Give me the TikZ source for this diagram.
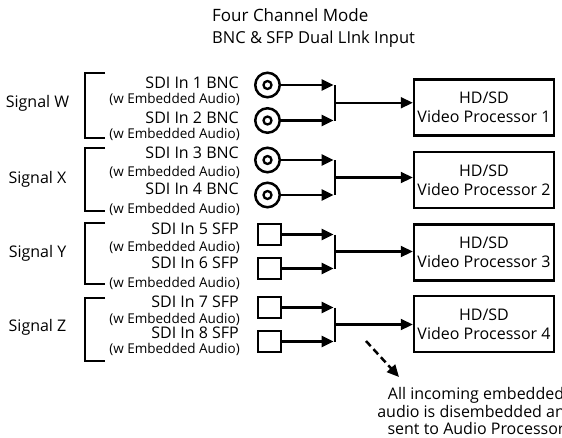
\documentclass[tikz,border=0pt]{standalone}
\usepackage{fontspec}
\setmainfont{Open Sans}
\usetikzlibrary{arrows.meta}
\tikzset{
  bnc/.style={circle,draw,line width=2.5pt,minimum size=24.5pt,inner sep=0pt},
  sfp/.style={rectangle,draw,line width=2.3pt,minimum width=22.5pt,minimum height=20.5pt,inner sep=0pt},
  proc/.style={rectangle,draw,line width=2.5pt,minimum width=140pt,minimum height=56pt,align=center,inner sep=0pt,font=\fontsize{16}{19}\selectfont},
  sdi/.style={anchor=base east,inner sep=0pt,font=\fontsize{16}{18}\selectfont},
  emb/.style={anchor=base east,inner sep=0pt,font=\fontsize{13.5}{15}\selectfont},
  sig/.style={anchor=base,inner sep=0pt,font=\fontsize{16}{18}\selectfont},
  tip/.style={-{Triangle[length=12pt,width=11pt]}},
  feedarrow/.style={line width=2.8pt,tip},
  joinbar/.style={line width=2.8pt},
  outarrow/.style={line width=2.2pt,tip},
  brk/.style={line width=2.5pt},
}
\begin{document}
\begin{tikzpicture}[x=1pt,y=-1pt]
\useasboundingbox (0,0) rectangle (562,437);
\clip (0,0) rectangle (562,437);
% title
\node[anchor=base west,inner sep=0pt,font=\fontsize{17}{20}\selectfont] (t1) at (212,21.5) {Four Channel Mode};
\node[anchor=base west,inner sep=0pt,font=\fontsize{16.5}{20}\selectfont] (t2) at (212,43) {BNC \& SFP Dual LInk Input};

% processors
\node[proc] (p1) at (484,107.5) {HD/SD\\Video Processor 1};
\node[proc] (p2) at (484,180) {HD/SD\\Video Processor 2};
\node[proc] (p3) at (484,252.5) {HD/SD\\Video Processor 3};
\node[proc] (p4) at (484,324) {HD/SD\\Video Processor 4};

% BNC connectors
\node[bnc] (c1) at (267.5,85) {};
\node[bnc] (c2) at (267.5,120.5) {};
\node[bnc] (c3) at (267.5,160) {};
\node[bnc] (c4) at (267.5,195) {};
\draw[line width=2.3pt] (c1.center) circle (4pt);
\draw[line width=2.3pt] (c2.center) circle (4pt);
\draw[line width=2.3pt] (c3.center) circle (4pt);
\draw[line width=2.3pt] (c4.center) circle (4pt);
% SFP connectors
\node[sfp] (c5) at (269.5,234.5) {};
\node[sfp] (c6) at (269.5,268.5) {};
\node[sfp] (c7) at (269.5,307.5) {};
\node[sfp] (c8) at (269.5,341.5) {};

% junction points
\coordinate (ja1) at (335,85);    \coordinate (jb1) at (335,120.5); \coordinate (jm1) at (335,102.75);
\coordinate (ja2) at (335,160);   \coordinate (jb2) at (335,195);   \coordinate (jm2) at (335,177.5);
\coordinate (ja3) at (335,234.5); \coordinate (jb3) at (335,268.5); \coordinate (jm3) at (335,251.5);
\coordinate (ja4) at (335,307.5); \coordinate (jb4) at (335,341.5); \coordinate (jm4) at (335,324.5);
\coordinate (ta1) at (333.6,85);    \coordinate (tb1) at (333.6,120.5);
\coordinate (ta2) at (333.6,160);   \coordinate (tb2) at (333.6,195);
\coordinate (ta3) at (333.6,234.5); \coordinate (tb3) at (333.6,268.5);
\coordinate (ta4) at (333.6,307.5); \coordinate (tb4) at (333.6,341.5);

\draw[feedarrow] (c1.east) -- (ta1);
\draw[feedarrow] (c2.east) -- (tb1);
\draw[feedarrow] (c3.east) -- (ta2);
\draw[feedarrow] (c4.east) -- (tb2);
\draw[feedarrow] (c5.east) -- (ta3);
\draw[feedarrow] (c6.east) -- (tb3);
\draw[feedarrow] (c7.east) -- (ta4);
\draw[feedarrow] (c8.east) -- (tb4);
\draw[joinbar] (ja1) -- (jb1);
\draw[joinbar] (ja2) -- (jb2);
\draw[joinbar] (ja3) -- (jb3);
\draw[joinbar] (ja4) -- (jb4);
\draw[outarrow] (jm1) -- (jm1 -| p1.west);
\draw[outarrow] (jm2) -- (jm2 -| p2.west);
\draw[outarrow] (jm3) -- (jm3 -| p3.west);
\draw[outarrow] (jm4) -- (jm4 -| p4.west);

% input labels
\node[sdi] (l1) at (239,88) {SDI In 1 BNC};
\node[emb] (e1) at (240,103) {(w Embedded Audio)};
\node[sdi] (l2) at (239,123) {SDI In 2 BNC};
\node[emb] (e2) at (240,138) {(w Embedded Audio)};
\node[sdi] (l3) at (239,158) {SDI In 3 BNC};
\node[emb] (e3) at (240,176) {(w Embedded Audio)};
\node[sdi] (l4) at (239,194) {SDI In 4 BNC};
\node[emb] (e4) at (240,213) {(w Embedded Audio)};
\node[sdi] (l5) at (239,234) {SDI In 5 SFP};
\node[emb] (e5) at (240,251) {(w Embedded Audio)};
\node[sdi] (l6) at (239,268) {SDI In 6 SFP};
\node[emb] (e6) at (240,287) {(w Embedded Audio)};
\node[sdi] (l7) at (239,307) {SDI In 7 SFP};
\node[emb] (e7) at (240,323) {(w Embedded Audio)};
\node[sdi] (l8) at (239,338) {SDI In 8 SFP};
\node[emb] (e8) at (240,353) {(w Embedded Audio)};

% brackets
\draw[brk] (105,73) -- (85,73) -- (85,138) -- (105,138);
\draw[brk] (105,148) -- (85,148) -- (85,211) -- (105,211);
\draw[brk] (105,223) -- (85,223) -- (85,284) -- (105,284);
\draw[brk] (105,298) -- (85,298) -- (85,361) -- (105,361);
\node[sig] (sw) at (37.5,107) {Signal W};
\node[sig] (sx) at (37.5,183) {Signal X};
\node[sig] (sy) at (37.5,257) {Signal Y};
\node[sig] (sz) at (37.5,331) {Signal Z};

% audio note
\node[anchor=base,align=center,inner sep=0pt,font=\fontsize{16}{17.5}\selectfont] (note) at (476,434.5) {All incoming embedded\\audio is disembedded and\\sent to Audio Processor};
\coordinate (d0) at (366,341);
\coordinate (d1) at (399,377);
\draw[line width=2.5pt,dash pattern=on 7pt off 4pt,tip] (d0) -- (d1);
\end{tikzpicture}
\end{document}
